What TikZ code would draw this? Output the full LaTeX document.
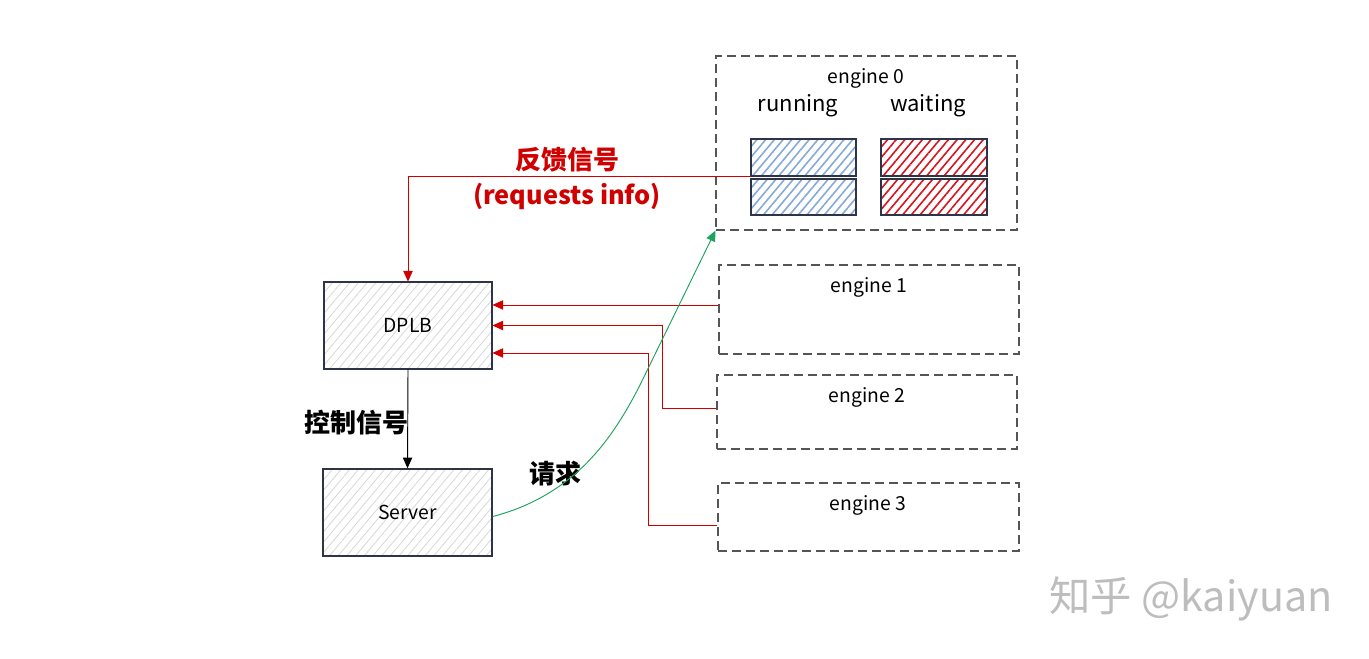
\documentclass[tikz,border=0pt]{standalone}
\usepackage{fontspec}
\setmainfont{Noto Sans CJK SC}
\usetikzlibrary{arrows.meta,patterns.meta}
\definecolor{fbred}{HTML}{D00000}
\definecolor{reqgreen}{HTML}{1BA35E}
\definecolor{boxline}{HTML}{2E3448}
\definecolor{hatchgray}{HTML}{D6D6D6}
\definecolor{runblue}{HTML}{86A9D6}
\definecolor{waitred}{HTML}{D5141E}
\definecolor{engline}{HTML}{555555}
\definecolor{markgray}{HTML}{BDBDBD}
\begin{document}
\begin{tikzpicture}[x=0.75pt,y=-0.75pt,
  srvbox/.style={draw=boxline, line width=1.1pt, pattern={Lines[angle=50,distance=5pt,line width=0.6pt]}, pattern color=hatchgray, font=\fontsize{14.5}{16}\selectfont},
  engbox/.style={draw=engline, line width=0.8pt, dash pattern=on 6.5pt off 4pt},
  runbox/.style={draw=boxline, line width=1pt, pattern={Lines[angle=50,distance=5pt,line width=1.2pt]}, pattern color=runblue},
  waitbox/.style={draw=boxline, line width=1pt, pattern={Lines[angle=50,distance=5pt,line width=1.2pt]}, pattern color=waitred},
  fb/.style={draw=fbred, line width=0.7pt, -{Triangle[length=8pt,width=7pt]}},
  bigtxt/.style={font=\fontsize{19.5}{22}\selectfont\bfseries}]
\useasboundingbox (0,0) rectangle (1369,658);
\node[srvbox, minimum width=126pt, minimum height=65.25pt] (dplb) at (408,325.5){DPLB};
\node[srvbox, minimum width=126.75pt, minimum height=65.25pt] (srv) at (407.5,512.5){Server};
\node[engbox, minimum width=225.75pt, minimum height=130.5pt] (eng0) at (866.5,143){};
\node[engbox, minimum width=225pt, minimum height=66.75pt] (eng1) at (869,309.5){};
\node[engbox, minimum width=225pt, minimum height=55.5pt] (eng2) at (867,412){};
\node[engbox, minimum width=225.75pt, minimum height=51pt] (eng3) at (868.5,517){};
\node[font=\fontsize{14.5}{16}\selectfont] (eng0lbl) at (866,78){engine 0};
\node[font=\fontsize{14.5}{16}\selectfont] (eng1lbl) at (869,287){engine 1};
\node[font=\fontsize{14.5}{16}\selectfont] (eng2lbl) at (867,397){engine 2};
\node[font=\fontsize{14.5}{16}\selectfont] (eng3lbl) at (868,505){engine 3};
\node[font=\fontsize{16.5}{18}\selectfont] (runlbl) at (798,106){running};
\node[font=\fontsize{16.5}{18}\selectfont] (waitlbl) at (928,106){waiting};
\node[runbox, minimum width=78.75pt, minimum height=27.75pt] (run0) at (803.5,157.5){};
\node[runbox, minimum width=78.75pt, minimum height=27pt] (run1) at (803.5,197){};
\node[waitbox, minimum width=79.5pt, minimum height=27.75pt] (wait0) at (934,157.5){};
\node[waitbox, minimum width=79.5pt, minimum height=27pt] (wait1) at (934,197){};
\node[bigtxt, text=fbred] (fbtxt) at (567,160){反馈信号};
\node[bigtxt, text=fbred, font=\fontsize{19}{21}\selectfont\bfseries] (fbinfo) at (567,196){(requests info)};
\node[bigtxt] (ctltxt) at (356,423){控制信号};
\node[bigtxt] (reqtxt) at (555,474){请求};
\node[text=markgray, font=\fontsize{31}{34}\selectfont] (mark) at (1191,599){知乎 @kaiyuan};
\draw[fb](run0.south west) -| (dplb.north);
\draw[fb]([yshift=3.4pt]eng1.west) -- ([yshift=15.4pt]dplb.east);
\draw[fb]([yshift=3pt]eng2.west) -- ++(-54,0) |- (dplb.east);
\draw[fb]([yshift=-6pt]eng3.west) -- ++(-69,0) |- ([yshift=-20.6pt]dplb.east);
\draw[line width=0.7pt, -{Triangle[length=8pt,width=7pt]}](dplb.south) -- (srv.north);
\draw[draw=reqgreen, line width=0.7pt, -{Triangle[length=8pt,width=7pt]}]([yshift=-3pt]srv.east) .. controls (575,495) and (613,438) .. (640,385) -- (eng0.south west);
\end{tikzpicture}
\end{document}
